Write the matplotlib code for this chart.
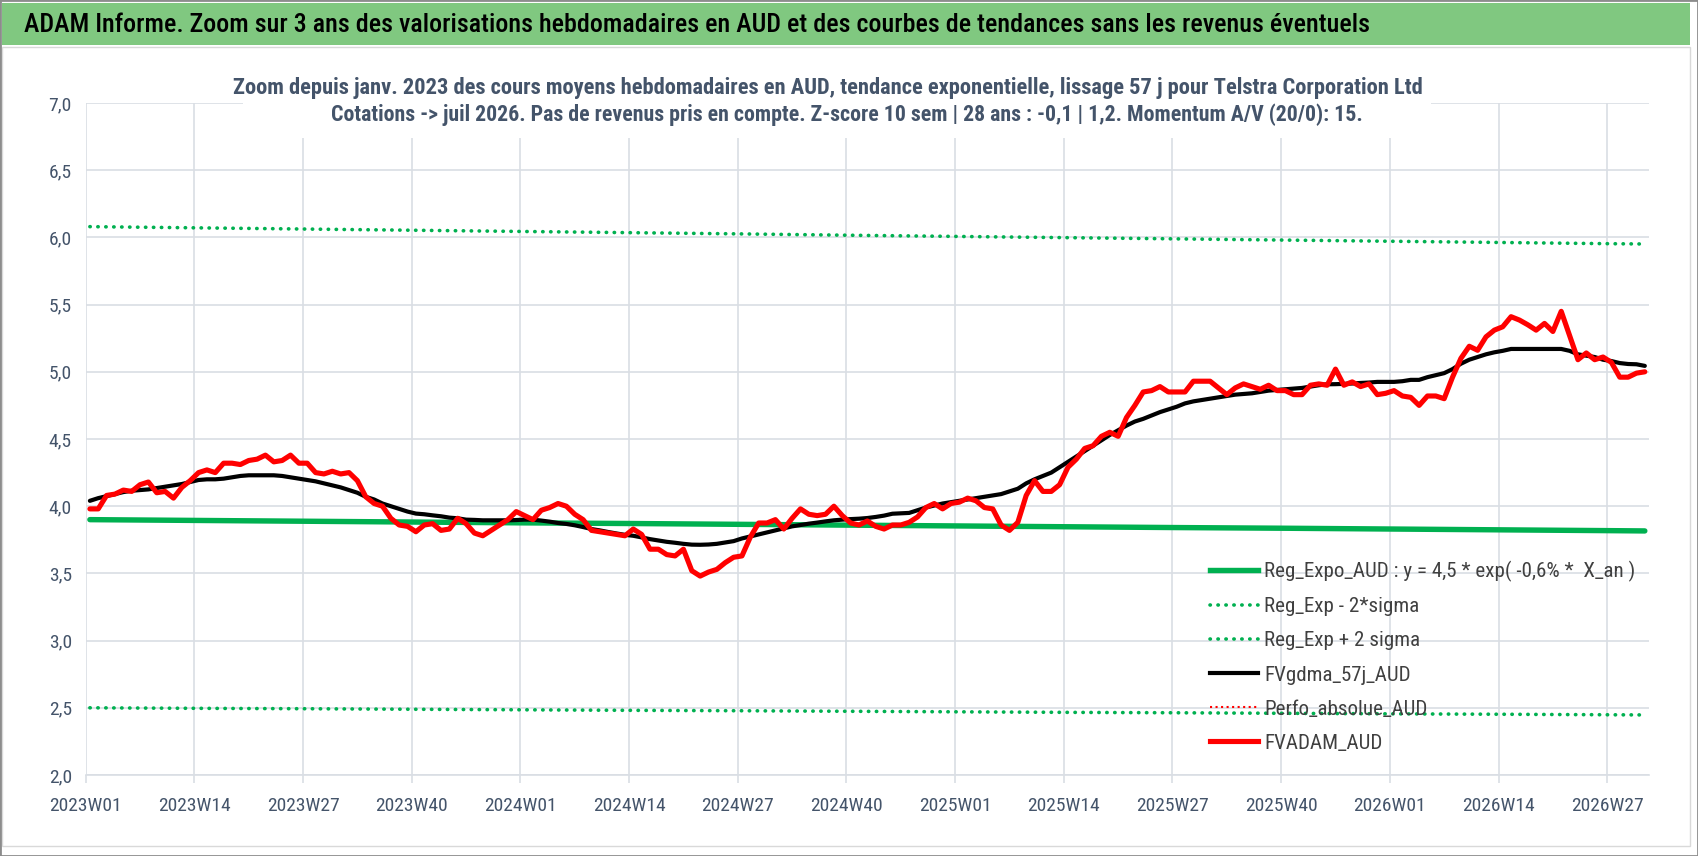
import matplotlib.pyplot as plt
from matplotlib.patches import Rectangle
from matplotlib.lines import Line2D

# categories : semaines ISO de 2023W01 a 2026W31
years = [2023, 2024, 2025, 2026]
nb_weeks = [52, 52, 52, 31]
weeks = [f"{y}W{w:02d}" for y, n in zip(years, nb_weeks) for w in range(1, n + 1)]

tick_labels = ['2023W01', '2023W14', '2023W27', '2023W40', '2024W01', '2024W14',
               '2024W27', '2024W40', '2025W01', '2025W14', '2025W27', '2025W40',
               '2026W01', '2026W14', '2026W27']

# FVADAM_AUD (rouge)
fv_adam = [3.98, 3.98, 4.08, 4.09, 4.12, 4.11, 4.16, 4.18, 4.10, 4.11,
           4.06, 4.14, 4.19, 4.25, 4.27, 4.25, 4.32, 4.32, 4.31, 4.34,
           4.35, 4.38, 4.33, 4.34, 4.38, 4.32, 4.32, 4.25, 4.24, 4.26,
           4.24, 4.25, 4.19, 4.07, 4.02, 4.00, 3.91, 3.86, 3.85, 3.81,
           3.86, 3.87, 3.82, 3.83, 3.91, 3.87, 3.80, 3.78, 3.82, 3.86,
           3.90, 3.96, 3.93, 3.90, 3.97, 3.99, 4.02, 4.00, 3.94, 3.90,
           3.82, 3.81, 3.80, 3.79, 3.78, 3.83, 3.79, 3.68, 3.68, 3.64,
           3.63, 3.68, 3.52, 3.48, 3.51, 3.53, 3.58, 3.62, 3.63, 3.77,
           3.875, 3.875, 3.90, 3.83, 3.91, 3.98, 3.94, 3.93, 3.94, 4.00,
           3.93, 3.875, 3.86, 3.89, 3.85, 3.83, 3.86, 3.86, 3.88, 3.92,
           3.99, 4.02, 3.98, 4.02, 4.03, 4.06, 4.04, 3.99, 3.98, 3.86,
           3.82, 3.88, 4.08, 4.19, 4.11, 4.11, 4.16, 4.29, 4.35, 4.43,
           4.45, 4.52, 4.55, 4.52, 4.66, 4.75, 4.85, 4.86, 4.89, 4.85,
           4.85, 4.85, 4.93, 4.93, 4.93, 4.88, 4.83, 4.88, 4.91, 4.89,
           4.87, 4.90, 4.86, 4.86, 4.83, 4.83, 4.90, 4.91, 4.90, 5.02,
           4.90, 4.925, 4.89, 4.91, 4.83, 4.84, 4.86, 4.82, 4.81, 4.75,
           4.82, 4.82, 4.80, 4.96, 5.10, 5.19, 5.16, 5.26, 5.31, 5.335,
           5.41, 5.385, 5.35, 5.31, 5.36, 5.30, 5.45, 5.27, 5.09, 5.14,
           5.09, 5.11, 5.07, 4.96, 4.96, 4.99, 5.00]

# FVgdma_57j_AUD (noir)
fv_gdma = [4.04, 4.06, 4.075, 4.09, 4.105, 4.115, 4.12, 4.125, 4.135, 4.145,
           4.155, 4.165, 4.18, 4.195, 4.20, 4.20, 4.205, 4.215, 4.225, 4.23,
           4.23, 4.23, 4.23, 4.225, 4.215, 4.205, 4.195, 4.185, 4.17, 4.155,
           4.14, 4.12, 4.10, 4.07, 4.05, 4.02, 4.00, 3.98, 3.96, 3.945,
           3.94, 3.932, 3.925, 3.915, 3.91, 3.90, 3.898, 3.895, 3.895, 3.895,
           3.895, 3.897, 3.90, 3.90, 3.893, 3.885, 3.875, 3.868, 3.858, 3.845,
           3.83, 3.82, 3.808, 3.797, 3.787, 3.78, 3.768, 3.755, 3.745, 3.735,
           3.728, 3.72, 3.714, 3.713, 3.715, 3.72, 3.73, 3.74, 3.76, 3.775,
           3.79, 3.805, 3.82, 3.835, 3.85, 3.86, 3.87, 3.878, 3.887, 3.895,
           3.90, 3.904, 3.907, 3.912, 3.92, 3.93, 3.944, 3.947, 3.95, 3.97,
           3.99, 4.005, 4.02, 4.03, 4.04, 4.05, 4.06, 4.07, 4.08, 4.09,
           4.11, 4.13, 4.17, 4.20, 4.225, 4.25, 4.29, 4.33, 4.37, 4.41,
           4.45, 4.49, 4.53, 4.565, 4.60, 4.63, 4.65, 4.675, 4.70, 4.72,
           4.74, 4.765, 4.78, 4.79, 4.80, 4.81, 4.82, 4.83, 4.835, 4.84,
           4.85, 4.86, 4.865, 4.87, 4.875, 4.88, 4.89, 4.90, 4.907, 4.908,
           4.91, 4.913, 4.917, 4.92, 4.925, 4.925, 4.925, 4.93, 4.94, 4.94,
           4.96, 4.975, 4.99, 5.02, 5.06, 5.09, 5.11, 5.13, 5.145, 5.156,
           5.17, 5.17, 5.17, 5.17, 5.17, 5.17, 5.17, 5.156, 5.13, 5.12,
           5.11, 5.09, 5.08, 5.065, 5.058, 5.056, 5.044]

# regressions exponentielles, lues aux semaines marquees
reg_weeks = tick_labels + ['2026W31']
reg_expo = [3.900, 3.894, 3.888, 3.882, 3.876, 3.871, 3.865, 3.859,
            3.853, 3.847, 3.841, 3.836, 3.830, 3.824, 3.818, 3.816]
reg_plus = [6.080, 6.071, 6.062, 6.053, 6.044, 6.035, 6.026, 6.016,
            6.007, 5.998, 5.989, 5.980, 5.971, 5.962, 5.953, 5.951]
reg_moins = [2.500, 2.496, 2.493, 2.489, 2.485, 2.481, 2.478, 2.474,
             2.470, 2.466, 2.463, 2.459, 2.455, 2.452, 2.448, 2.447]
perfo_abs = []  # serie sans valeur visible

y_ticks = [2.0, 2.5, 3.0, 3.5, 4.0, 4.5, 5.0, 5.5, 6.0, 6.5, 7.0]

title = ("ADAM Informe. Zoom sur 3 ans des valorisations hebdomadaires en AUD "
         "et des courbes de tendances sans les revenus éventuels")
sub1 = ("Zoom depuis janv. 2023 des cours moyens hebdomadaires en AUD, tendance "
        "exponentielle, lissage 57 j pour Telstra Corporation Ltd")
sub2 = ("Cotations -> juil 2026. Pas de revenus pris en compte. Z-score 10 sem | "
        "28 ans : -0,1 | 1,2. Momentum A/V (20/0): 15.")
labels = ['Reg_Expo_AUD : y = 4,5 * exp( -0,6% *  X_an )', 'Reg_Exp - 2*sigma',
          'Reg_Exp + 2 sigma', 'FVgdma_57j_AUD', 'Perfo_absolue_AUD', 'FVADAM_AUD']

NARROW = ['Roboto Condensed', 'Liberation Sans Narrow', 'Lato', 'DejaVu Sans']
W, H = 1698, 856
GREEN = '#00B050'
GRID = '#D9DEE4'
TXT = '#44546A'
DOT = (0, (0.1, 2.1))

fig = plt.figure(figsize=(W / 100, H / 100), dpi=100)
ax = fig.add_axes([85.7 / W, 1 - 775 / H, (1649 - 85.7) / W, (775 - 103) / H])

x = list(range(len(weeks)))
xr = [weeks.index(w) for w in reg_weeks]

ax.plot(xr, reg_expo, color=GREEN, lw=3.9, solid_capstyle='round', zorder=3)
ax.plot(xr, reg_moins, color=GREEN, lw=2.6, ls=DOT, dash_capstyle='round', zorder=3)
ax.plot(xr, reg_plus, color=GREEN, lw=2.6, ls=DOT, dash_capstyle='round', zorder=3)
ax.plot(x, fv_gdma, color='black', lw=3.0, solid_capstyle='round', zorder=4)
ax.plot(x[:len(perfo_abs)], perfo_abs, color='red', lw=1.5, ls=':', zorder=4)
ax.plot(x, fv_adam, color='#FF0000', lw=3.7, solid_capstyle='round',
        solid_joinstyle='round', zorder=5)

ax.set_xlim(-0.5, len(weeks) - 0.5)
ax.set_ylim(2, 7)
ax.set_xticks([weeks.index(t) - 0.5 for t in tick_labels])
ax.set_xticklabels(tick_labels, family=NARROW, fontsize=14, color=TXT)
ax.set_yticks(y_ticks)
ax.set_yticklabels([f"{v:.1f}".replace('.', ',') for v in y_ticks],
                   family=NARROW, fontsize=14, color=TXT)
ax.grid(True, color=GRID, lw=1.2)
ax.set_axisbelow(True)
for s in ['top', 'right', 'left']:
    ax.spines[s].set_visible(False)
ax.spines['bottom'].set_color(GRID)
ax.spines['bottom'].set_linewidth(1.2)
ax.tick_params(axis='x', length=6, color=GRID, width=1.2, pad=10)
ax.tick_params(axis='y', length=0, pad=10)

# taille de police de la legende : largeur du premier libelle ~372 px
probe = fig.text(0, 0, labels[0], family=NARROW, fontsize=15)
fig.canvas.draw()
leg_fs = 15 * 372 / probe.get_window_extent(fig.canvas.get_renderer()).width
probe.remove()

handles = [Line2D([], [], color=GREEN, lw=3.9),
           Line2D([], [], color=GREEN, lw=2.6, ls=DOT, dash_capstyle='round'),
           Line2D([], [], color=GREEN, lw=2.6, ls=DOT, dash_capstyle='round'),
           Line2D([], [], color='black', lw=3.0),
           Line2D([], [], color='red', lw=1.5, ls=':'),
           Line2D([], [], color='#FF0000', lw=3.7)]
leg_px = leg_fs * 100 / 72
leg = fig.legend(handles, labels, loc='upper left', bbox_to_anchor=(1210 / W, 1 - 561 / H),
                 frameon=False, borderpad=0, borderaxespad=0,
                 handlelength=48 / leg_px, handletextpad=6 / leg_px,
                 labelspacing=0.72, prop={'family': NARROW, 'size': leg_fs})
for t in leg.get_texts():
    t.set_color('#404040')

# bandeau vert du titre
fig.add_artist(Rectangle((2 / W, 1 - 45 / H), (W - 10) / W, 42 / H, transform=fig.transFigure,
                         facecolor='#80C880', edgecolor='none', zorder=1))
fig.add_artist(Rectangle((2 / W, 1 - 846 / H), (W - 10) / W, (846 - 47) / H,
                         transform=fig.transFigure, fill=False, edgecolor='#D9D9D9',
                         lw=1, zorder=1))
fig.add_artist(Rectangle((0, 0), 1, 1, transform=fig.transFigure, fill=False,
                         edgecolor='#8C8C8C', lw=2, zorder=1))
# fond blanc derriere le sous-titre
fig.add_artist(Rectangle((243 / W, 1 - 138 / H), (1431 - 243) / W, (138 - 58) / H,
                         transform=fig.transFigure, facecolor='white', edgecolor='none',
                         zorder=2))

t0 = fig.text(24 / W, 1 - 25 / H, title, ha='left', va='center', fontsize=19,
              color='black', weight='medium', family=NARROW, zorder=3)
t1 = fig.text(233 / W, 1 - 88 / H, sub1, ha='left', va='center', fontsize=15,
              color=TXT, weight='bold', family=NARROW, zorder=3)
t2 = fig.text(331 / W, 1 - 115 / H, sub2, ha='left', va='center', fontsize=15,
              color=TXT, weight='bold', family=NARROW, zorder=3)

# ajuster la taille des textes a la largeur mesuree
fig.canvas.draw()
r = fig.canvas.get_renderer()
for t, wpx in [(t0, 1342), (t1, 1193), (t2, 1035)]:
    w = t.get_window_extent(r).width
    t.set_fontsize(t.get_fontsize() * wpx / w)

fig.savefig('out.png', dpi=100)
